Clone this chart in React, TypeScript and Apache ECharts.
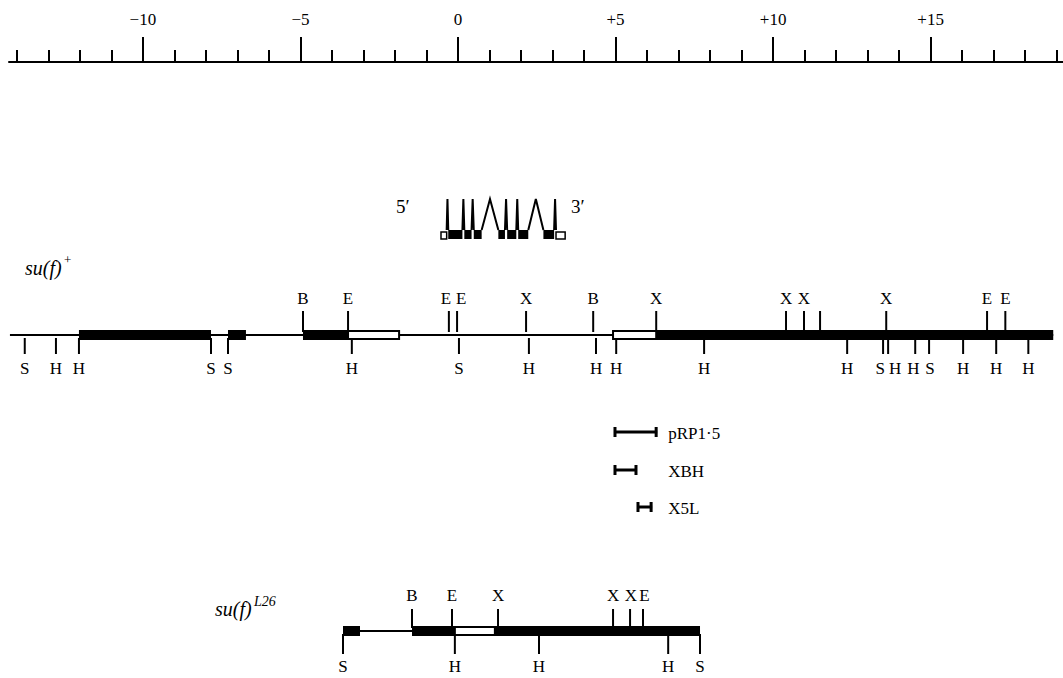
import React, { useEffect, useRef } from "react";
import * as echarts from "echarts";

// ---------- ruler (kb) ----------
const rulerMin = -14.25;
const rulerMax = 19.2;
const minorTicks = [-14, -13, -12, -11, -10, -9, -8, -7, -6, -5, -4, -3, -2, -1, 0, 1, 2, 3, 4, 5, 6, 7, 8, 9, 10, 11, 12, 13, 14, 15, 16, 17, 18, 19];
const majorTicks = [-10, -5, 0, 5, 10, 15];
const majorLabels = ["\u221210", "\u22125", "0", "+5", "+10", "+15"];

// ---------- transcript (kb) ----------
const geneUtr = [[-0.54, -0.36], [3.11, 3.40]];
const geneExons = [[-0.31, 0.14], [0.20, 0.43], [0.50, 0.75], [1.28, 1.49], [1.56, 1.85], [1.91, 2.23], [2.71, 3.05]];
const geneIntrons = [[-0.36, -0.31], [0.14, 0.20], [0.43, 0.50], [0.75, 1.28], [1.49, 1.56], [1.85, 1.91], [2.23, 2.71], [3.05, 3.11]];

// ---------- su(f)+ map (kb) ----------
const wtLine = [[-14.22, 18.89]];
const wtSolid = [[-12.03, -7.84], [-7.30, -6.73], [-4.92, -3.49], [6.29, 18.89]];
const wtOpen = [[-3.49, -1.87], [4.92, 6.29]];
const wtUpperPos = [-4.92, -3.49, -0.29, -0.03, 2.16, 4.29, 6.29, 10.41, 10.98, 11.49, 13.59, 16.79, 17.37];
const wtUpperLabelPos = [-4.92, -3.49, -0.38, 0.10, 2.16, 4.29, 6.29, 10.41, 10.98, 11.49, 13.59, 16.79, 17.37];
const wtUpperLab = ["B", "E", "E", "E", "X", "B", "X", "X", "X", "", "X", "E", "E"];
const wtLowerPos = [-13.75, -12.76, -12.03, -7.84, -7.30, -3.37, 0.03, 2.25, 4.38, 5.02, 7.81, 12.35, 13.49, 13.65, 14.51, 14.95, 16.03, 17.08, 18.10];
const wtLowerLabelPos = [-13.75, -12.76, -12.03, -7.84, -7.30, -3.37, 0.03, 2.25, 4.38, 5.02, 7.81, 12.35, 13.40, 13.87, 14.45, 14.98, 16.03, 17.08, 18.10];
const wtLowerLab = ["S", "H", "H", "S", "S", "H", "S", "H", "H", "H", "H", "H", "S", "H", "H", "S", "H", "H", "H"];

// ---------- probes (kb) ----------
const probeNames = ["pRP1\u00b75", "XBH", "X5L"];
const probeStart = [4.95, 4.95, 5.68];
const probeEnd = [6.32, 5.68, 6.16];
const probeLabelPos = 6.67;

// ---------- su(f)L26 map (kb) ----------
const mutLine = [[-3.65, 7.68]];
const mutSolid = [[-3.65, -3.11], [-1.46, 7.68]];
const mutOpen = [[-0.10, 1.17]];
const mutUpperPos = [-1.46, -0.19, 1.27, 4.92, 5.46, 5.87];
const mutUpperLabelPos = [-1.46, -0.19, 1.27, 4.92, 5.49, 5.92];
const mutUpperLab = ["B", "E", "X", "X", "X", "E"];
const mutLowerPos = [-3.65, -0.10, 2.57, 6.67, 7.68];
const mutLowerLab = ["S", "H", "H", "H", "S"];

// ---------- layout (vertical, in page pixels) ----------
const WT_Y = 335;
const MUT_Y = 631;
const GENE_TOP = 230;
const GENE_BOTTOM = 239;
const GENE_APEX = 199;
const PROBE_Y = [432, 470, 507];
const FONT = '"Liberation Serif", "Times New Roman", serif';

function lineSeries(segs: number[][], y: number) {
  return {
    type: "custom",
    silent: true,
    encode: { x: [0, 1], y: 2 },
    data: segs.map((s) => [s[0], s[1], y]),
    renderItem: (_p: any, api: any) => {
      const a = api.coord([api.value(0), api.value(2)]);
      const b = api.coord([api.value(1), api.value(2)]);
      return { type: "line", shape: { x1: a[0], y1: a[1], x2: b[0], y2: b[1] }, style: { stroke: "#000", lineWidth: 2 } };
    },
  };
}

function boxSeries(segs: number[][], y: number, open: boolean) {
  return {
    type: "custom",
    silent: true,
    encode: { x: [0, 1], y: 2 },
    data: segs.map((s) => [s[0], s[1], y]),
    renderItem: (_p: any, api: any) => {
      const a = api.coord([api.value(0), api.value(2)]);
      const b = api.coord([api.value(1), api.value(2)]);
      if (open) {
        return { type: "rect", shape: { x: a[0], y: a[1] - 4, width: b[0] - a[0], height: 8 }, style: { fill: "#fff", stroke: "#000", lineWidth: 2 } };
      }
      return { type: "rect", shape: { x: a[0], y: a[1] - 5, width: b[0] - a[0], height: 10 }, style: { fill: "#000" } };
    },
  };
}

function siteSeries(pos: number[], labelPos: number[], labels: string[], y: number, t1: number, t2: number, ly: number) {
  return {
    type: "custom",
    silent: true,
    encode: { x: 0, y: 2 },
    data: pos.map((p, i) => [p, labelPos[i], y]),
    renderItem: (params: any, api: any) => {
      const i = params.dataIndex;
      const t = api.coord([api.value(0), api.value(2)]);
      const l = api.coord([api.value(1), api.value(2)]);
      const children: any[] = [
        { type: "line", shape: { x1: t[0], y1: t[1] + t1, x2: t[0], y2: t[1] + t2 }, style: { stroke: "#000", lineWidth: 2 } },
      ];
      if (labels[i]) {
        children.push({
          type: "text",
          style: { text: labels[i], x: l[0], y: t[1] + ly, align: "center", verticalAlign: "middle", fill: "#000", fontSize: 17, fontFamily: FONT },
        });
      }
      return { type: "group", children };
    },
  };
}

export default function App() {
  const ref = useRef<HTMLDivElement>(null);
  useEffect(() => {
    if (!ref.current) return;
    const chart = echarts.init(ref.current, null, { renderer: "svg" });
    const axisCommon = {
      type: "value",
      position: "top",
      min: rulerMin,
      max: rulerMax,
      gridIndex: 0,
      splitLine: { show: false },
    };
    const series: any[] = [
      // transcript
      {
        type: "custom",
        silent: true,
        encode: { x: [0, 1], y: 2 },
        data: geneIntrons.map((s) => [s[0], s[1], GENE_TOP]),
        renderItem: (_p: any, api: any) => {
          const a = api.coord([api.value(0), GENE_TOP]);
          const b = api.coord([api.value(1), GENE_TOP]);
          const m = api.coord([(api.value(0) + api.value(1)) / 2, GENE_APEX]);
          return { type: "polyline", shape: { points: [[a[0], a[1]], [m[0], m[1]], [b[0], b[1]]] }, style: { stroke: "#000", lineWidth: 2, fill: null } };
        },
      },
      {
        type: "custom",
        silent: true,
        encode: { x: [0, 1], y: 2 },
        data: geneExons.map((s) => [s[0], s[1], GENE_TOP]),
        renderItem: (_p: any, api: any) => {
          const a = api.coord([api.value(0), GENE_TOP]);
          const b = api.coord([api.value(1), GENE_BOTTOM]);
          return { type: "rect", shape: { x: a[0], y: a[1], width: b[0] - a[0], height: b[1] - a[1] }, style: { fill: "#000" } };
        },
      },
      {
        type: "custom",
        silent: true,
        encode: { x: [0, 1], y: 2 },
        data: geneUtr.map((s) => [s[0], s[1], GENE_TOP]),
        renderItem: (_p: any, api: any) => {
          const a = api.coord([api.value(0), GENE_TOP + 2]);
          const b = api.coord([api.value(1), GENE_BOTTOM]);
          return { type: "rect", shape: { x: a[0], y: a[1], width: b[0] - a[0], height: b[1] - a[1] }, style: { fill: "#fff", stroke: "#000", lineWidth: 1.5 } };
        },
      },
      // su(f)+
      lineSeries(wtLine, WT_Y),
      boxSeries(wtSolid, WT_Y, false),
      boxSeries(wtOpen, WT_Y, true),
      siteSeries(wtUpperPos, wtUpperLabelPos, wtUpperLab, WT_Y, -24, -3, -37),
      siteSeries(wtLowerPos, wtLowerLabelPos, wtLowerLab, WT_Y, 3, 19, 33),
      // probes
      {
        type: "custom",
        silent: true,
        encode: { x: [0, 1], y: 2 },
        data: probeNames.map((_n, i) => [probeStart[i], probeEnd[i], PROBE_Y[i]]),
        renderItem: (params: any, api: any) => {
          const i = params.dataIndex;
          const a = api.coord([api.value(0), api.value(2)]);
          const b = api.coord([api.value(1), api.value(2)]);
          const l = api.coord([probeLabelPos, api.value(2)]);
          const st = { stroke: "#000", lineWidth: 3 };
          return {
            type: "group",
            children: [
              { type: "line", shape: { x1: a[0], y1: a[1], x2: b[0], y2: b[1] }, style: st },
              { type: "line", shape: { x1: a[0] + 1, y1: a[1] - 5, x2: a[0] + 1, y2: a[1] + 5 }, style: st },
              { type: "line", shape: { x1: b[0] - 1, y1: b[1] - 5, x2: b[0] - 1, y2: b[1] + 5 }, style: st },
              { type: "text", style: { text: probeNames[i], x: l[0], y: l[1] + 1, align: "left", verticalAlign: "middle", fill: "#000", fontSize: 17, fontFamily: FONT } },
            ],
          };
        },
      },
      // su(f)L26
      lineSeries(mutLine, MUT_Y),
      boxSeries(mutSolid, MUT_Y, false),
      boxSeries(mutOpen, MUT_Y, true),
      siteSeries(mutUpperPos, mutUpperLabelPos, mutUpperLab, MUT_Y, -22, -3, -36),
      siteSeries(mutLowerPos, mutLowerPos, mutLowerLab, MUT_Y, 3, 23, 35),
    ];
    chart.setOption({
      animation: false,
      backgroundColor: "#fff",
      grid: { left: 9, right: 0, top: 62, bottom: 0, containLabel: false },
      xAxis: [
        {
          ...axisCommon,
          axisLine: { show: true, onZero: false, lineStyle: { color: "#000", width: 2 } },
          axisTick: { show: true, length: 12, customValues: minorTicks, lineStyle: { color: "#000", width: 2 } },
          axisLabel: { show: false },
        },
        {
          ...axisCommon,
          axisLine: { show: false, onZero: false },
          axisTick: { show: true, length: 25, customValues: majorTicks, lineStyle: { color: "#000", width: 2 } },
          axisLabel: {
            show: true,
            customValues: majorTicks,
            margin: 34,
            color: "#000",
            fontSize: 17,
            fontFamily: FONT,
            formatter: (v: number) => majorLabels[majorTicks.indexOf(v)] ?? "",
          },
        },
      ],
      yAxis: { type: "value", min: 62, max: 678, inverse: true, show: false, splitLine: { show: false } },
      graphic: [
        { type: "text", x: 25, y: 268, style: { text: "su(f)", fill: "#000", fontSize: 20, fontStyle: "italic", fontFamily: FONT, verticalAlign: "middle" } },
        { type: "text", x: 64, y: 259, style: { text: "+", fill: "#000", fontSize: 13, fontFamily: FONT, verticalAlign: "middle" } },
        { type: "text", x: 215, y: 609, style: { text: "su(f)", fill: "#000", fontSize: 20, fontStyle: "italic", fontFamily: FONT, verticalAlign: "middle" } },
        { type: "text", x: 254, y: 601, style: { text: "L26", fill: "#000", fontSize: 14, fontStyle: "italic", fontFamily: FONT, verticalAlign: "middle" } },
        { type: "text", x: 396, y: 206, style: { text: "5\u2032", fill: "#000", fontSize: 19, fontFamily: FONT, verticalAlign: "middle" } },
        { type: "text", x: 571, y: 206, style: { text: "3\u2032", fill: "#000", fontSize: 19, fontFamily: FONT, verticalAlign: "middle" } },
      ],
      series: series.map((s) => ({ ...s, xAxisIndex: 0 })),
    });
    return () => chart.dispose();
  }, []);
  return <div ref={ref} style={{ position: "fixed", left: 0, top: 0, width: 1063, height: 678, background: "#fff" }} />;
}
